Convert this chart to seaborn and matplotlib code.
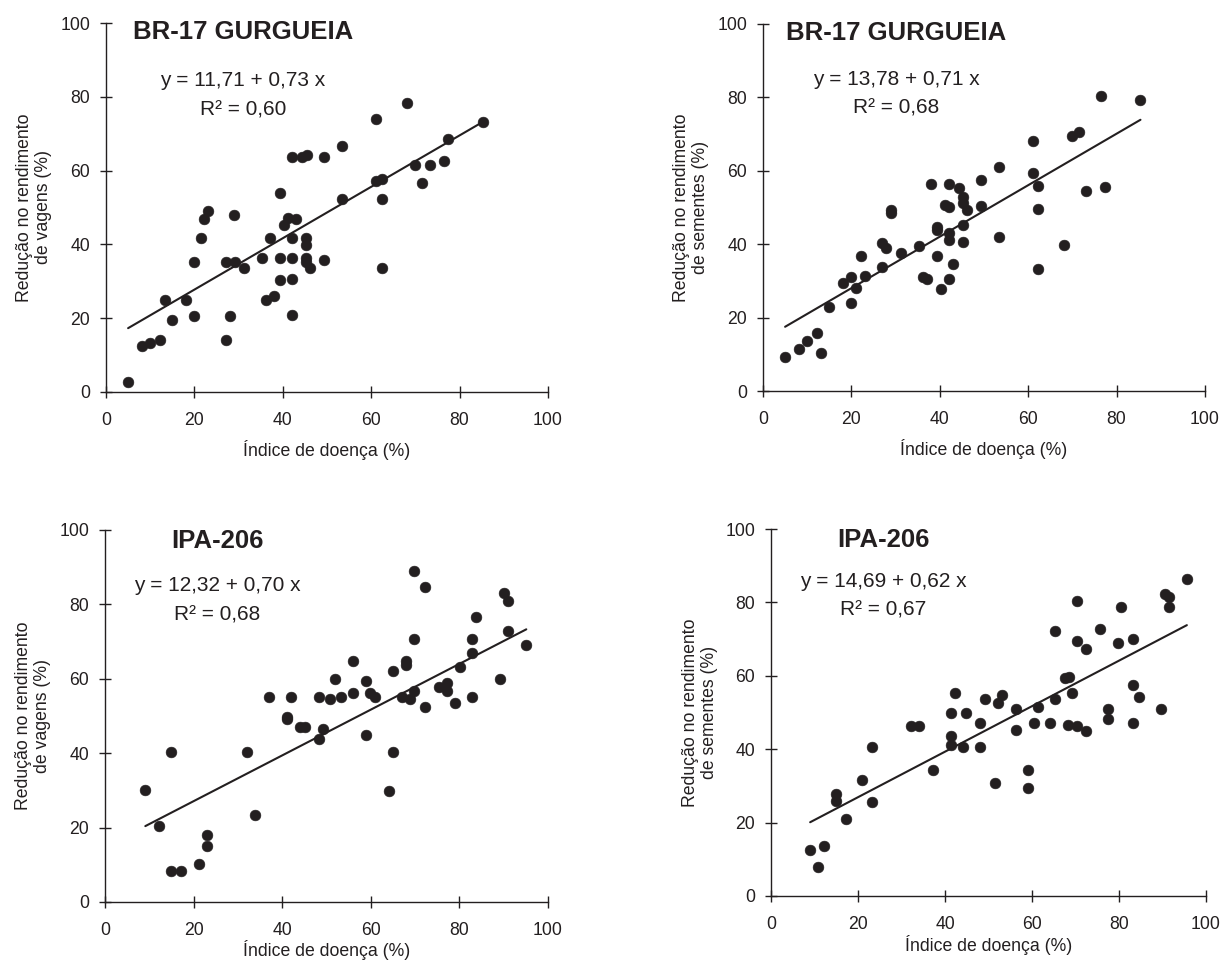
import matplotlib
matplotlib.use("Agg")
import matplotlib.pyplot as plt
import seaborn as sns
import pandas as pd

# ---------------- data ----------------
# Panel A: BR-17 Gurgueia, redução no rendimento de vagens
x_br_vag = [5.0, 8.2, 10.0, 12.3, 13.3, 15.0, 18.2, 20.0, 20.0, 21.4, 22.2, 23.1, 27.1, 27.1, 28.1,
            29.0, 29.2, 31.2, 35.3, 36.2, 38.1, 37.2, 39.3, 39.3, 39.3, 40.2, 41.1, 43.0, 42.0, 42.0,
            42.0, 42.0, 42.0, 44.4, 45.4, 45.3, 45.3, 45.3, 45.3, 46.1, 49.4, 49.4, 53.4, 53.4, 61.0,
            61.0, 62.4, 62.4, 62.4, 68.2, 85.4, 77.3, 70.0, 73.2, 76.4, 71.4]
y_br_vag = [2.8, 12.4, 13.4, 14.1, 24.8, 19.4, 24.9, 20.6, 35.2, 41.6, 47.0, 49.1, 14.1, 35.1, 20.6,
            48.1, 35.1, 33.5, 36.2, 24.8, 25.9, 41.6, 53.9, 36.2, 30.3, 45.2, 47.2, 47.0, 63.8, 41.6,
            36.2, 30.7, 21.0, 63.7, 64.1, 41.6, 39.9, 36.2, 35.1, 33.5, 63.7, 35.7, 66.8, 52.4, 73.9,
            57.3, 57.7, 52.4, 33.5, 78.3, 73.3, 68.5, 61.4, 61.4, 62.6, 56.7]

# Panel B: BR-17 Gurgueia, redução no rendimento de sementes
x_br_sem = [5.0, 8.2, 10.0, 12.2, 13.1, 14.9, 18.1, 19.9, 19.9, 21.1, 22.2, 23.1, 27.0, 27.9, 27.0,
            29.0, 29.0, 31.2, 35.2, 36.1, 37.2, 38.0, 39.3, 39.3, 39.3, 40.2, 41.1, 42.1, 42.0, 42.0,
            42.0, 42.0, 43.0, 44.3, 45.3, 45.3, 46.2, 45.3, 45.3, 49.3, 49.3, 53.3, 53.3, 76.5, 85.4,
            70.0, 71.4, 61.0, 61.0, 62.3, 62.3, 73.1, 77.3, 68.2, 62.3]
y_br_sem = [9.2, 11.5, 13.5, 15.7, 10.3, 22.8, 29.4, 31.0, 23.9, 28.2, 36.9, 31.4, 40.3, 39.1, 33.7,
            49.4, 48.6, 37.5, 39.6, 31.0, 30.5, 56.5, 44.7, 43.8, 36.9, 27.7, 50.6, 50.1, 56.5, 43.0,
            41.2, 30.5, 34.6, 55.3, 52.8, 51.2, 49.4, 45.1, 40.6, 57.5, 50.5, 60.9, 41.9, 80.5, 79.4,
            69.5, 70.6, 68.0, 59.3, 55.9, 49.5, 54.4, 55.5, 39.7, 33.2]

# Panel C: IPA-206, redução no rendimento de vagens
x_ipa_vag = [9.1, 12.3, 15.0, 14.9, 17.1, 21.3, 23.0, 23.0, 32.0, 33.8, 37.1, 41.1, 41.1, 42.0, 44.1,
             45.2, 48.2, 48.2, 49.2, 50.9, 53.3, 51.9, 69.8, 72.2, 90.1, 91.0, 83.8, 91.0, 95.1, 69.8,
             82.9, 82.9, 68.0, 68.0, 64.9, 55.9, 80.2, 59.0, 55.9, 59.9, 61.0, 67.1, 68.9, 69.8, 72.2,
             75.3, 77.1, 77.1, 78.9, 82.9, 89.2, 59.0, 64.9, 64.0]
y_ipa_vag = [30.0, 20.4, 40.2, 8.4, 8.4, 10.1, 18.1, 15.0, 40.2, 23.5, 55.2, 49.8, 49.1, 55.2, 47.1,
             47.1, 55.2, 43.9, 46.5, 54.6, 55.2, 60.0, 89.0, 84.8, 83.1, 81.0, 76.7, 72.9, 69.1, 70.8,
             70.8, 67.0, 64.8, 63.6, 62.2, 64.8, 63.3, 59.5, 56.2, 56.2, 55.2, 55.2, 54.6, 56.8, 52.5,
             57.8, 58.9, 56.8, 53.5, 55.2, 60.0, 44.9, 40.2, 29.9]

# Panel D: IPA-206, redução no rendimento de sementes
x_ipa_sem = [9.0, 10.9, 12.2, 14.9, 14.9, 17.2, 20.9, 23.2, 23.2, 32.1, 34.1, 37.2, 41.4, 41.4, 41.4,
             42.3, 44.2, 44.9, 48.1, 48.1, 49.1, 51.4, 95.6, 90.5, 91.5, 91.5, 80.4, 70.4, 65.4, 75.6,
             70.4, 72.3, 79.7, 83.2, 67.5, 68.4, 65.4, 69.2, 61.4, 56.4, 53.2, 52.2, 56.4, 60.5, 64.1,
             68.2, 70.4, 72.3, 77.4, 77.4, 83.2, 84.7, 83.2, 89.6, 59.1, 59.1]
y_ipa_sem = [12.4, 8.0, 13.5, 27.7, 26.0, 21.1, 31.5, 40.6, 25.5, 46.2, 46.2, 34.2, 49.8, 43.5, 41.2,
             55.3, 40.6, 49.8, 47.1, 40.6, 53.7, 30.9, 86.4, 82.3, 81.5, 78.7, 78.7, 80.3, 72.3, 72.7,
             69.5, 67.3, 68.9, 70.0, 59.3, 59.8, 53.7, 55.4, 51.6, 51.0, 54.9, 52.7, 45.3, 47.2, 47.2,
             46.6, 46.2, 45.0, 51.0, 48.3, 57.5, 54.3, 47.2, 51.0, 34.2, 29.3]

# regression lines as drawn in the figure (end points)
line_x = [[5.0, 85.4], [5.0, 85.4], [9.1, 95.1], [9.0, 95.6]]
line_y = [[17.3, 73.3], [17.5, 73.9], [20.4, 73.3], [20.1, 73.8]]

titles = ["BR-17 GURGUEIA", "BR-17 GURGUEIA", "IPA-206", "IPA-206"]
r2_labels = ["0,60", "0,68", "0,68", "0,67"]
eq_labels = ["y = 11,71 + 0,73 x", "y = 13,78 + 0,71 x", "y = 12,32 + 0,70 x", "y = 14,69 + 0,62 x"]
ylabels = ["Redução no rendimento\nde vagens (%)", "Redução no rendimento\nde sementes (%)",
           "Redução no rendimento\nde vagens (%)", "Redução no rendimento\nde sementes (%)"]
xlabel = "Índice de doença (%)"
ticks = [0, 20, 40, 60, 80, 100]
xs = [x_br_vag, x_br_sem, x_ipa_vag, x_ipa_sem]
ys = [y_br_vag, y_br_sem, y_ipa_vag, y_ipa_sem]

# ---------------- style / layout ----------------
sns.set_style("ticks")
plt.rcParams["font.family"] = ["Liberation Sans", "DejaVu Sans"]
INK = "#231f20"

W, H = 1226, 964
# axes boxes in pixels: left, right, top, bottom
boxes = [(106, 548, 23, 392), (763, 1205, 24, 391), (105, 548, 530, 902), (771, 1206, 529, 896)]
text_pos = [(31.0, 97.5, 84.4, 76.3), (30.2, 97.5, 85.0, 77.1), (25.4, 97.0, 85.0, 77.2), (25.8, 97.0, 85.8, 77.8)]
xlabel_pads = [7.5, 7.5, 0.8, 1.5]

fig = plt.figure(figsize=(W / 100, H / 100), dpi=100)

for i in range(4):
    l, r, t, b = boxes[i]
    ax = fig.add_axes([l / W, 1 - b / H, (r - l) / W, (b - t) / H])
    df = pd.DataFrame({"x": xs[i], "y": ys[i]})
    sns.scatterplot(data=df, x="x", y="y", ax=ax, color=INK, s=60, edgecolor=INK, linewidth=0.4, zorder=3)
    line_df = pd.DataFrame({"x": line_x[i], "y": line_y[i]})
    sns.lineplot(data=line_df, x="x", y="y", ax=ax, color=INK, linewidth=1.5, zorder=2)

    ax.set_xlim(0, 100)
    ax.set_ylim(0, 100)
    ax.set_xticks(ticks)
    ax.set_yticks(ticks)
    for side in ["top", "right"]:
        ax.spines[side].set_visible(False)
    for side in ["left", "bottom"]:
        ax.spines[side].set_linewidth(1.0)
        ax.spines[side].set_color(INK)
    ax.tick_params(direction="inout", length=8, width=1.0, color=INK, labelsize=12.7,
                   labelcolor=INK)
    ax.tick_params(axis="x", pad=10.5)
    ax.tick_params(axis="y", pad=7.5)
    ax.set_xlabel(xlabel, fontsize=12.7, color=INK, labelpad=xlabel_pads[i])
    ax.set_ylabel(ylabels[i], fontsize=12.7, color=INK, linespacing=1.15)
    ax.yaxis.set_label_coords(-0.122, 0.5)

    tx, ty, ey, ry = text_pos[i]
    ax.text(tx, ty, titles[i], fontsize=18.5, fontweight="bold", color=INK, ha="center", va="center")
    ax.text(tx, ey, eq_labels[i], fontsize=15, color=INK, ha="center", va="center")
    ax.text(tx, ry, "R² = " + r2_labels[i], fontsize=15, color=INK, ha="center", va="center")

fig.savefig("out.png", dpi=100)
